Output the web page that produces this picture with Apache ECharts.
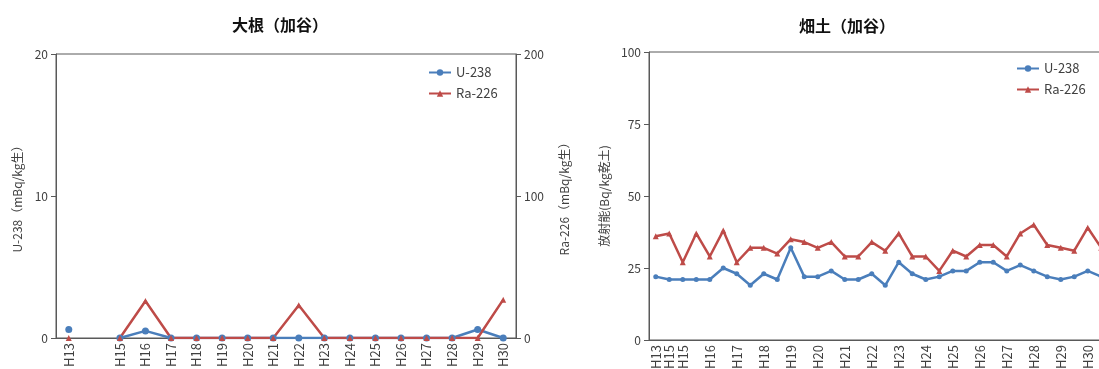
<!DOCTYPE html>
<html><head><meta charset="utf-8">
<script src="https://cdn.jsdelivr.net/npm/echarts@6/dist/echarts.min.js"></script>
<style>
html,body{margin:0;padding:0;overflow:hidden;background:#fff;width:1099px;height:369px;}
#c1{position:absolute;left:0;top:0;width:580px;height:369px;}
#c2{position:absolute;left:580px;top:0;width:540px;height:369px;}
</style></head><body>
<div id="c1"></div><div id="c2"></div>
<script>
// Left chart: 大根（加谷）
const radishCategories = ["H13","","H15","H16","H17","H18","H19","H20","H21","H22","H23","H24","H25","H26","H27","H28","H29","H30"];
const radishU238 = [0.6,null,0,0.5,0,0,0,0,0,0,0,0,0,0,0,0,0.6,0];
const radishRa226 = [0,null,0,26,0,0,0,0,0,23,0,0,0,0,0,0,0,27];
// Right chart: 畑土（加谷）
const soilCategories = ["H13","H15","H15","","H16","","H17","","H18","","H19","","H20","","H21","","H22","","H23","","H24","","H25","","H26","","H27","","H28","","H29","","H30",""];
const soilU238 = [22,21,21,21,21,25,23,19,23,21,32,22,22,24,21,21,23,19,27,23,21,22,24,24,27,27,24,26,24,22,21,22,24,22];
const soilRa226 = [36,37,27,37,29,38,27,32,32,30,35,34,32,34,29,29,34,31,37,29,29,24,31,29,33,33,29,37,40,33,32,31,39,32];

const BLUE = '#4A7EBB', RED = '#BE4B48';
const TXT = '#404040', AX = '#595959';
const FONT = '"Noto Sans CJK JP", "Noto Sans", sans-serif';

function axisCommon(){
  return {
    axisLine:{show:true,lineStyle:{color:AX,width:1}},
    axisTick:{show:true,length:5,lineStyle:{color:AX}},
    axisLabel:{color:TXT,fontSize:12,fontFamily:FONT,margin:8},
    splitLine:{show:false},
    nameTextStyle:{color:TXT,fontSize:12,fontFamily:FONT},
    nameLocation:'middle', nameRotate:90
  };
}

const c1 = echarts.init(document.getElementById('c1'), null, {renderer:'canvas'});
c1.setOption({
  animation:false,
  title:{text:'大根（加谷）',left:280,top:17,textAlign:'center',padding:0,
    textStyle:{fontSize:16,fontWeight:'bold',color:'#111',fontFamily:FONT}},
  legend:{orient:'vertical',left:423,top:61,itemWidth:22,itemHeight:8,itemGap:8,
    textStyle:{color:TXT,fontSize:13,fontFamily:FONT},data:['U-238','Ra-226']},
  grid:{left:56,top:54,right:64,bottom:31,show:true,borderColor:AX,borderWidth:1,
    outerBoundsMode:'none',containLabel:false},
  xAxis:{type:'category',data:radishCategories,boundaryGap:true,
    axisLine:{show:true,lineStyle:{color:AX}},axisTick:{show:false},
    axisLabel:{interval:0,rotate:90,color:TXT,fontSize:13,fontFamily:FONT,margin:5}},
  yAxis:[
    Object.assign(axisCommon(),{type:'value',min:0,max:20,interval:10,position:'left',
      name:'U-238（mBq/kg生）',nameGap:31}),
    Object.assign(axisCommon(),{type:'value',min:0,max:200,interval:100,position:'right',
      name:'Ra-226（mBq/kg生）',nameGap:42})
  ],
  series:[
    {name:'U-238',type:'line',yAxisIndex:0,data:radishU238,symbol:'circle',symbolSize:7,
      showAllSymbol:true,lineStyle:{color:BLUE,width:2.5},itemStyle:{color:BLUE}},
    {name:'Ra-226',type:'line',yAxisIndex:1,data:radishRa226,symbol:'triangle',symbolSize:6,
      showAllSymbol:true,lineStyle:{color:RED,width:2.5},itemStyle:{color:RED}}
  ]
});

const c2 = echarts.init(document.getElementById('c2'), null, {renderer:'canvas'});
c2.setOption({
  animation:false,
  title:{text:'畑土（加谷）',left:267,top:18,textAlign:'center',padding:0,
    textStyle:{fontSize:16,fontWeight:'bold',color:'#111',fontFamily:FONT}},
  legend:{orient:'vertical',left:431,top:57,itemWidth:22,itemHeight:8,itemGap:8,
    textStyle:{color:TXT,fontSize:13,fontFamily:FONT},data:['U-238','Ra-226']},
  grid:{left:69,top:52,right:12,bottom:29,show:true,borderColor:AX,borderWidth:1,
    outerBoundsMode:'none',containLabel:false},
  xAxis:{type:'category',data:soilCategories,boundaryGap:true,
    axisLine:{show:true,lineStyle:{color:AX}},axisTick:{show:false},
    axisLabel:{interval:0,rotate:90,color:TXT,fontSize:13,fontFamily:FONT,margin:5}},
  yAxis:Object.assign(axisCommon(),{type:'value',min:0,max:100,interval:25,
      name:'放射能(Bq/kg乾土)',nameGap:36}),
  series:[
    {name:'U-238',type:'line',data:soilU238,symbol:'circle',symbolSize:5,
      showAllSymbol:true,lineStyle:{color:BLUE,width:2.5},itemStyle:{color:BLUE}},
    {name:'Ra-226',type:'line',data:soilRa226,symbol:'triangle',symbolSize:6,
      showAllSymbol:true,lineStyle:{color:RED,width:2.5},itemStyle:{color:RED}}
  ]
});
</script></body></html>
